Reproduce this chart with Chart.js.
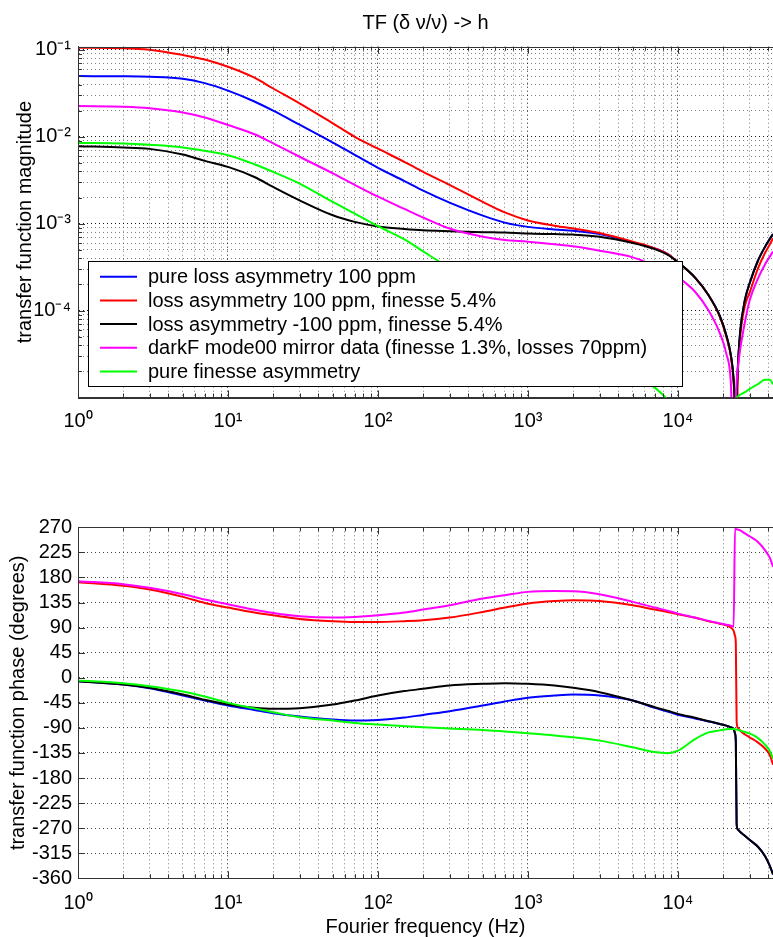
<!DOCTYPE html>
<html>
<head>
<meta charset="utf-8">
<script src="https://cdn.jsdelivr.net/npm/chart.js@4.4.1/dist/chart.umd.min.js"></script>
<style>
  body { margin: 0; background: #fff; }
  #wrap { position: relative; width: 773px; height: 937px; }
  canvas { position: absolute; left: 0; }
</style>
</head>
<body>
<div id="wrap">
  <canvas id="magChart" width="773" height="470" style="top:0px"></canvas>
  <canvas id="phaseChart" width="773" height="467" style="top:470px"></canvas>
</div>
<script>
// Fourier frequency (Hz), shared by every curve
var freq = [1, 2, 3, 5, 7, 10, 15, 20, 30, 50, 70, 100, 150, 200, 300, 500, 700,
  1000, 1500, 2000, 3000, 5000, 7000, 8500, 10000, 13000, 16000, 19000, 21000,
  22500, 23500, 24000, 24300, 24600, 25000, 26000, 28000, 30000, 34000, 38000, 41000, 43000];

var seriesLabels = [
  'pure loss asymmetry 100 ppm',
  'loss asymmetry 100 ppm, finesse 5.4%',
  'loss asymmetry -100 ppm, finesse 5.4%',
  'darkF mode00 mirror data (finesse 1.3%, losses 70ppm)',
  'pure finesse asymmetry'
];
var seriesColors = ['#0000ff', '#ff0000', '#000000', '#ff00ff', '#00ff00'];

// transfer function magnitude
var magBlue = [0.050, 0.0497, 0.0490, 0.0465, 0.0415, 0.0340, 0.0255, 0.0200, 0.0138, 0.0086, 0.0062,
  0.0044, 0.0031, 0.0024, 0.00175, 0.00124, 0.00103, 0.00092, 0.00086, 0.00083, 0.00076, 0.00061,
  0.00052, 0.00045, 0.00036, 0.00024, 0.00015, 8.7e-5, 5.2e-5, 3.1e-5, 1.6e-5, 7e-6, 2e-6, 9e-6,
  2.0e-5, 5.8e-5, 1.35e-4, 2.05e-4, 3.7e-4, 5.4e-4, 6.7e-4, 7.6e-4];
var magRed = [0.106, 0.1047, 0.1007, 0.0875, 0.0777, 0.0640, 0.0479, 0.0360, 0.0243, 0.0143, 0.0100,
  0.0073, 0.00515, 0.00395, 0.0028, 0.00178, 0.00135, 0.00109, 0.00095, 0.00088, 0.00078, 0.00062,
  0.00052, 0.00045, 0.00036, 0.00024, 0.00015, 8.5e-5, 5.0e-5, 3.0e-5, 1.5e-5, 7e-6, 3e-6, 2e-6,
  1.5e-5, 5.0e-5, 1.15e-4, 1.6e-4, 3.0e-4, 4.6e-4, 5.8e-4, 6.8e-4];
var magBlack = [0.0078, 0.00755, 0.00727, 0.00626, 0.00529, 0.00451, 0.00345, 0.00265, 0.00186, 0.00125, 0.00105,
  0.00093, 0.00087, 0.00084, 0.00082, 0.00080, 0.00079, 0.00077, 0.00076, 0.00075, 0.00071, 0.00060,
  0.00051, 0.00044, 0.00036, 0.00024, 0.00015, 8.7e-5, 5.2e-5, 3.1e-5, 1.6e-5, 7e-6, 2e-6, 9e-6,
  2.0e-5, 5.8e-5, 1.35e-4, 2.05e-4, 3.7e-4, 5.4e-4, 6.7e-4, 7.6e-4];
var magMagenta = [0.0226, 0.0222, 0.0214, 0.0191, 0.0167, 0.0137, 0.0107, 0.0084, 0.0059, 0.0038, 0.0028,
  0.00205, 0.00148, 0.00118, 0.00088, 0.00071, 0.00065, 0.00062, 0.00058, 0.00055, 0.00049, 0.00041,
  0.00033, 0.00029, 0.000243, 0.000165, 0.0001, 5.5e-5, 3.2e-5, 1.5e-5, 2e-6, 6e-6, 1.0e-5, 1.5e-5,
  2.1e-5, 3.6e-5, 7.5e-5, 1.3e-4, 2.3e-4, 3.4e-4, 4.2e-4, 4.8e-4];
var magGreen = [0.0085, 0.0084, 0.0081, 0.00755, 0.0069, 0.00615, 0.00484, 0.00395, 0.0029, 0.00178, 0.00131,
  0.00094, 0.00066, 0.00048, 0.00031, 0.00019, 0.000138, 9.7e-5, 6.5e-5, 4.9e-5, 3.3e-5, 1.9e-5,
  1.3e-5, 9.5e-6, 6.5e-6, 4.5e-6, 4e-6, 4.5e-6, 5.5e-6, 7e-6, 8.5e-6, 9.3e-6, 9.7e-6, 1.0e-5,
  1.03e-5, 1.08e-5, 1.15e-5, 1.25e-5, 1.42e-5, 1.6e-5, 1.6e-5, 1.42e-5];

// transfer function phase (degrees)
var phBlue = [-6.1, -12.1, -18.7, -31.9, -40.9, -49.9, -58, -63.7, -69.7, -75.1, -76.9,
  -75.7, -71.5, -66.7, -60.1, -49.9, -42.7, -36.1, -32, -30.1, -31.9, -40.9,
  -54.1, -60.5, -66.7, -73, -78.5, -83, -86, -89, -92, -100, -115, -262,
  -272, -277, -284, -291, -303, -320, -338, -353];
var phRed = [171.5, 164.9, 158.3, 145.1, 134.3, 125.9, 117, 112.1, 105.5, 101.3, 100.1,
  100.1, 101.5, 103.1, 107.9, 118.1, 125.9, 133.1, 137.5, 139.1, 137.9, 130.1,
  122.3, 118, 113.9, 107.5, 101.5, 97, 94, 90, 84, 75, 62, -78,
  -89, -95, -102, -107, -116, -127, -139, -156];
var phBlack = [-6.1, -12.1, -18.1, -30.1, -39.7, -48.1, -54.1, -55.9, -54.7, -48.1, -40.9,
  -31.9, -24, -19.9, -13.9, -10.9, -9.7, -10.9, -14, -18.1, -25.9, -40.9,
  -52.9, -59, -64.9, -72, -78, -83, -86, -89, -92, -100, -115, -262,
  -272, -277, -284, -291, -303, -320, -338, -353];
var phMagenta = [173.3, 167.9, 161.3, 149.9, 140.3, 131.9, 122, 116.3, 110.3, 107.9, 109.1,
  112.1, 117, 122.3, 130.1, 142.1, 148.1, 154.1, 155.5, 155.3, 149.9, 136.1,
  125.9, 120.5, 115.1, 108, 102, 97.5, 95, 93.5, 91.5, 268, 267, 266.5,
  266, 264.5, 259, 254, 244, 229, 215, 199];
var phGreen = [-4.9, -9.7, -15.1, -24.7, -33.7, -45.1, -55, -61.9, -70.9, -76.9, -81.1,
  -84.1, -87, -88.9, -91, -93.7, -96.5, -99.7, -103.5, -106.9, -112.9, -124.9,
  -133.5, -135.5, -131, -110, -98, -94.5, -92.5, -92.2, -92.2, -92.4, -92.6, -93,
  -93.5, -95, -97.5, -100, -108, -120, -132, -145];

// tick labels
var freqTickValues = [1, 10, 100, 1000, 10000];
var freqTickLabels = ['10\u2070', '10\u00b9', '10\u00b2', '10\u00b3', '10\u2074'];
var magTickValues = [1e-4, 1e-3, 1e-2, 1e-1];
var magTickLabels = ['10\u207b\u2074', '10\u207b\u00b3', '10\u207b\u00b2', '10\u207b\u00b9'];

var FONT = "'Liberation Sans', Arial, Helvetica, sans-serif";
Chart.defaults.font.family = FONT;
Chart.defaults.color = '#000';

function toPoints(ys) {
  return freq.map(function (f, i) { return { x: f, y: ys[i] }; });
}

function isDecade(v) {
  var l = Math.log10(v);
  return Math.abs(l - Math.round(l)) < 1e-6;
}

function cleanLogTick(v) {
  var m = v / Math.pow(10, Math.floor(Math.log10(v) + 1e-9));
  return Math.abs(m - Math.round(m)) < 1e-6;
}

function labelFor(values, labels) {
  return function (value) {
    for (var i = 0; i < values.length; i++) {
      if (Math.abs(value / values[i] - 1) < 1e-6) return labels[i];
    }
    return '';
  };
}

function makeDatasets(list) {
  return list.map(function (ys, i) {
    return {
      label: seriesLabels[i],
      data: toPoints(ys),
      borderColor: seriesColors[i],
      backgroundColor: seriesColors[i],
      borderWidth: 2,
      pointRadius: 0,
      fill: false,
      cubicInterpolationMode: 'monotone',
      order: 5 - i
    };
  });
}

// dotted grid like the matlab one, darker lines on decades
function gridColor(ctx) {
  if (ctx.scale && ctx.scale.type === 'logarithmic' && ctx.tick && isDecade(ctx.tick.value)) return 'rgba(0,0,0,0.9)';
  if (ctx.scale && ctx.scale.type === 'logarithmic') return 'rgba(0,0,0,0.5)';
  return 'rgba(0,0,0,0.75)';
}

function logX(height, pad) {
  return {
    type: 'logarithmic',
    min: 1,
    max: 43000,
    afterBuildTicks: function (scale) {
      scale.ticks = scale.ticks.filter(function (t) { return cleanLogTick(t.value); });
    },
    afterFit: function (scale) {
      scale.height = height;
      // the plot runs right to the window edge
      scale.paddingLeft = 0;
      scale.paddingRight = 0;
    },
    grid: { color: gridColor, lineWidth: 1, drawTicks: false },
    border: { display: true, color: '#333', width: 1, dash: [1, 3] },
    ticks: {
      autoSkip: false, maxRotation: 0, minRotation: 0, padding: pad,
      font: { size: 20 }, color: '#000',
      callback: labelFor(freqTickValues, freqTickLabels)
    }
  };
}

// box round the axes plus small inward ticks
var axesFrame = {
  id: 'axesFrame',
  afterDraw: function (chart) {
    var ctx = chart.ctx, a = chart.chartArea;
    var xs = chart.scales.x, ys = chart.scales.y;
    ctx.save();
    ctx.strokeStyle = '#333';
    ctx.lineWidth = 1;
    ctx.setLineDash([]);
    ctx.beginPath();
    xs.ticks.forEach(function (t) {
      var px = Math.round(xs.getPixelForValue(t.value)) + 0.5;
      var len = isDecade(t.value) ? 7 : 4;
      ctx.moveTo(px, a.bottom); ctx.lineTo(px, a.bottom - len);
      ctx.moveTo(px, a.top); ctx.lineTo(px, a.top + len);
    });
    ys.ticks.forEach(function (t) {
      var py = Math.round(ys.getPixelForValue(t.value)) + 0.5;
      var len = (ys.type !== 'logarithmic' || isDecade(t.value)) ? 7 : 4;
      ctx.moveTo(a.left, py); ctx.lineTo(a.left + len, py);
    });
    ctx.stroke();
    ctx.beginPath();
    ctx.moveTo(Math.round(a.left) + 0.5, Math.round(a.bottom) + 0.5);
    ctx.lineTo(Math.round(a.left) + 0.5, Math.round(a.top) + 0.5);
    ctx.lineTo(a.right, Math.round(a.top) + 0.5);
    ctx.moveTo(Math.round(a.left) + 0.5, Math.round(a.bottom) + 0.5);
    ctx.lineTo(a.right, Math.round(a.bottom) + 0.5);
    ctx.stroke();
    ctx.restore();
  }
};

// legend box drawn inside the magnitude axes
var insideLegend = {
  id: 'insideLegend',
  afterDatasetsDraw: function (chart) {
    var ctx = chart.ctx;
    var bx = 88.5, by = 261.5, bw = 594, bh = 125;
    ctx.save();
    ctx.fillStyle = '#fff';
    ctx.fillRect(bx, by, bw, bh);
    ctx.strokeStyle = '#000';
    ctx.lineWidth = 1;
    ctx.setLineDash([]);
    ctx.strokeRect(bx, by, bw, bh);
    ctx.font = '20px ' + FONT;
    ctx.textBaseline = 'middle';
    ctx.textAlign = 'left';
    chart.data.datasets.forEach(function (ds, i) {
      var y = 276.7 + i * 23.7;
      ctx.strokeStyle = ds.borderColor;
      ctx.lineWidth = 2;
      ctx.beginPath();
      ctx.moveTo(100, y); ctx.lineTo(137, y);
      ctx.stroke();
      ctx.fillStyle = '#000';
      ctx.fillText(ds.label, 148, y + 1);
    });
    ctx.restore();
  }
};

new Chart(document.getElementById('magChart'), {
  type: 'line',
  data: { datasets: makeDatasets([magBlue, magRed, magBlack, magMagenta, magGreen]) },
  plugins: [axesFrame, insideLegend],
  options: {
    responsive: false,
    animation: false,
    devicePixelRatio: 1,
    layout: { padding: { left: 0, right: 0, top: 0, bottom: 0 } },
    plugins: {
      legend: { display: false },
      tooltip: { enabled: false },
      title: {
        display: true, fullSize: false,
        text: 'TF (\u03b4 \u03bd/\u03bd) -> h',
        font: { size: 20, weight: 'normal' }, color: '#000',
        padding: { top: 11, bottom: 11.7 }
      }
    },
    scales: {
      x: logX(72.5, 12),
      y: {
        type: 'logarithmic',
        min: 1e-5,
        max: 0.109,
        afterBuildTicks: function (scale) {
          scale.ticks = scale.ticks.filter(function (t) { return cleanLogTick(t.value); });
        },
        afterFit: function (scale) { scale.width = 78; },
        grid: { color: gridColor, lineWidth: 1, drawTicks: false },
        border: { display: true, color: '#333', width: 1, dash: [1, 3] },
        ticks: {
          autoSkip: false, padding: 7, font: { size: 20 }, color: '#000',
          callback: labelFor(magTickValues, magTickLabels)
        },
        title: {
          display: true, text: 'transfer function magnitude',
          font: { size: 20 }, color: '#000', padding: { top: 13, bottom: 0 }
        }
      }
    }
  }
});

var phaseX = logX(58.7, 13);
phaseX.title = {
  display: true, text: 'Fourier frequency (Hz)',
  font: { size: 20 }, color: '#000', padding: { top: 0, bottom: -2 }
};

new Chart(document.getElementById('phaseChart'), {
  type: 'line',
  data: { datasets: makeDatasets([phBlue, phRed, phBlack, phMagenta, phGreen]) },
  plugins: [axesFrame],
  options: {
    responsive: false,
    animation: false,
    devicePixelRatio: 1,
    layout: { padding: { left: 0, right: 0, top: 57.3, bottom: 0 } },
    plugins: { legend: { display: false }, tooltip: { enabled: false } },
    scales: {
      x: phaseX,
      y: {
        type: 'linear',
        min: -360,
        max: 270,
        afterFit: function (scale) { scale.width = 78; },
        grid: { color: gridColor, lineWidth: 1, drawTicks: false },
        border: { display: true, color: '#333', width: 1, dash: [1, 3] },
        ticks: { stepSize: 45, autoSkip: false, padding: 6, font: { size: 20 }, color: '#000' },
        title: {
          display: true, text: 'transfer function phase (degrees)',
          font: { size: 20 }, color: '#000', padding: { top: 6, bottom: 0 }
        }
      }
    }
  }
});
</script>
</body>
</html>
